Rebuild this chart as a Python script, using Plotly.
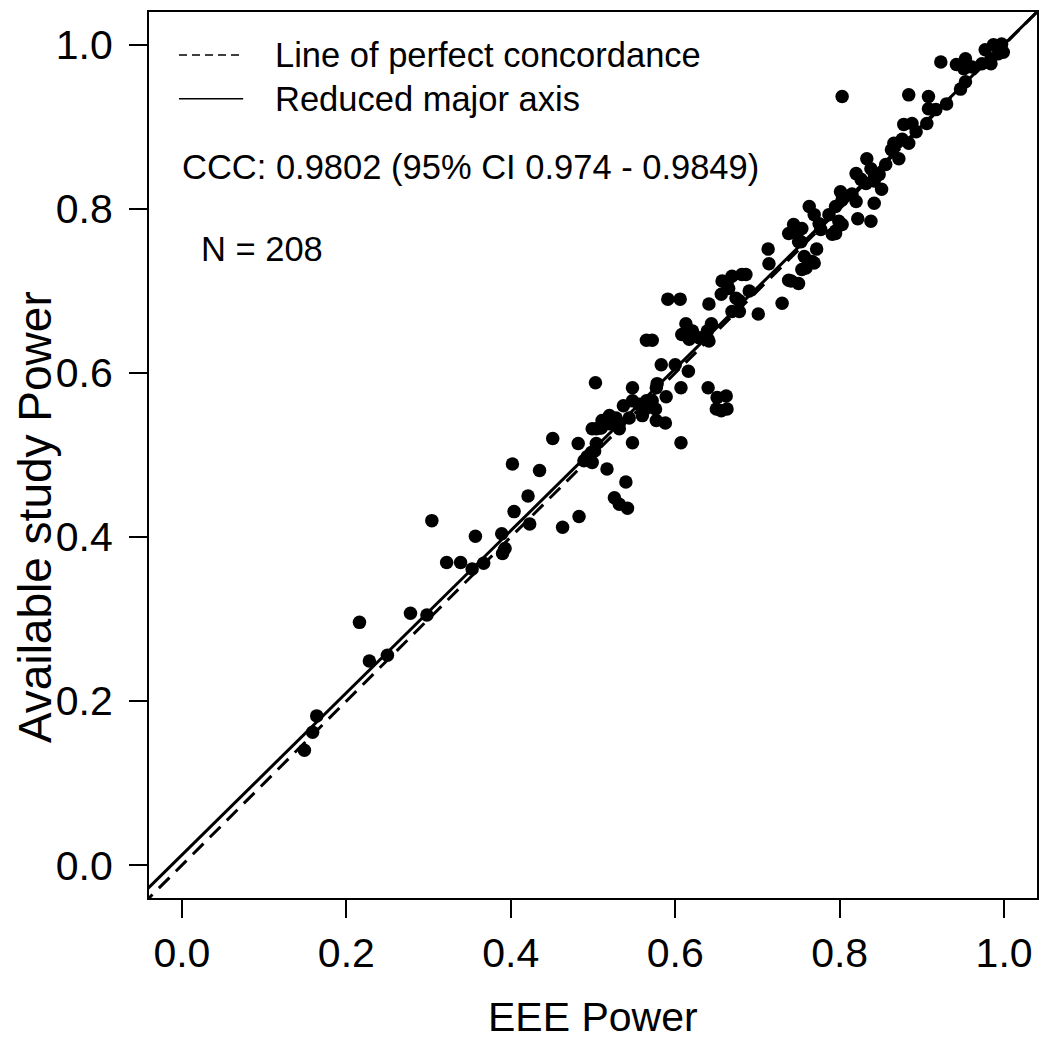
import plotly.graph_objects as go

# ---- data ----
eee_power = [
    0.149, 0.159, 0.164, 0.216, 0.228, 0.250, 0.278, 0.298, 0.304, 0.322,
    0.339, 0.357, 0.353, 0.367, 0.389, 0.393, 0.390, 0.404, 0.421, 0.423,
    0.402, 0.435, 0.451, 0.463, 0.483, 0.482, 0.493, 0.499, 0.502, 0.504,
    0.517, 0.520, 0.532, 0.540, 0.526, 0.532, 0.542, 0.537, 0.548, 0.548,
    0.565, 0.572, 0.560, 0.589, 0.588, 0.503, 0.607, 0.607, 0.616, 0.640,
    0.651, 0.662, 0.656, 0.663, 0.650, 0.565, 0.572, 0.591, 0.606, 0.583,
    0.600, 0.613, 0.608, 0.621, 0.617, 0.641, 0.644, 0.641, 0.665, 0.674,
    0.678, 0.556, 0.576, 0.510, 0.578, 0.511, 0.499, 0.544, 0.532, 0.629,
    0.639, 0.656, 0.669, 0.663, 0.657, 0.681, 0.690, 0.678, 0.669, 0.701,
    0.713, 0.714, 0.730, 0.738, 0.750, 0.757, 0.769, 0.759, 0.772, 0.738,
    0.750, 0.754, 0.775, 0.795, 0.803, 0.803, 0.884, 0.908, 0.908, 0.930,
    0.947, 0.942, 0.953, 0.961, 0.973, 0.984, 0.906, 0.878, 0.888, 0.893,
    0.866, 0.863, 0.876, 0.884, 0.872, 0.856, 0.833, 0.838, 0.842, 0.848,
    0.820, 0.826, 0.832, 0.842, 0.851, 0.842, 0.838, 0.822, 0.815, 0.820,
    0.801, 0.803, 0.795, 0.787, 0.799, 0.795, 0.791, 0.763, 0.769, 0.777,
    0.744, 0.748, 0.753, 0.766, 0.754, 0.741, 0.686, 0.923, 0.953, 0.951,
    0.977, 0.987, 0.997, 0.993, 0.999, 0.984, 0.953, 0.917, 0.489, 0.498,
    0.504, 0.508, 0.520, 0.528, 0.548, 0.565, 0.577, 0.577,
]
available_power = [
    0.140, 0.162, 0.182, 0.296, 0.249, 0.256, 0.307, 0.305, 0.420, 0.369,
    0.369, 0.401, 0.361, 0.368, 0.404, 0.386, 0.380, 0.431, 0.450, 0.416,
    0.489, 0.481, 0.520, 0.412, 0.425, 0.514, 0.498, 0.491, 0.505, 0.532,
    0.483, 0.548, 0.532, 0.467, 0.448, 0.440, 0.435, 0.560, 0.582, 0.515,
    0.557, 0.566, 0.548, 0.571, 0.539, 0.588, 0.515, 0.582, 0.602, 0.582,
    0.570, 0.572, 0.554, 0.556, 0.556, 0.640, 0.640, 0.690, 0.690, 0.610,
    0.610, 0.660, 0.647, 0.651, 0.641, 0.684, 0.660, 0.639, 0.703, 0.691,
    0.675, 0.562, 0.556, 0.533, 0.587, 0.542, 0.532, 0.545, 0.539, 0.643,
    0.651, 0.696, 0.718, 0.708, 0.712, 0.720, 0.700, 0.688, 0.675, 0.672,
    0.751, 0.733, 0.685, 0.713, 0.709, 0.742, 0.734, 0.728, 0.751, 0.770,
    0.760, 0.776, 0.782, 0.773, 0.781, 0.937, 0.939, 0.937, 0.922, 0.928,
    0.946, 0.976, 0.977, 0.973, 0.977, 0.977, 0.904, 0.903, 0.904, 0.894,
    0.880, 0.872, 0.885, 0.880, 0.861, 0.854, 0.861, 0.849, 0.843, 0.842,
    0.843, 0.836, 0.831, 0.834, 0.824, 0.807, 0.785, 0.788, 0.818, 0.809,
    0.821, 0.811, 0.803, 0.793, 0.785, 0.770, 0.769, 0.803, 0.793, 0.775,
    0.781, 0.770, 0.760, 0.736, 0.726, 0.712, 0.720, 0.979, 0.983, 0.971,
    0.994, 1.000, 1.001, 0.989, 0.991, 0.983, 0.955, 0.921, 0.493, 0.503,
    0.514, 0.533, 0.538, 0.545, 0.566, 0.566, 0.582, 0.542,
]

# reduced major axis fit
rma_intercept = 0.0125
rma_slope = 0.988

axis_range = [-0.04, 1.04]
tick_values = [0.0, 0.2, 0.4, 0.6, 0.8, 1.0]
tick_labels = ["0.0", "0.2", "0.4", "0.6", "0.8", "1.0"]

legend_labels = ["Line of perfect concordance", "Reduced major axis"]
ccc_text = "CCC: 0.9802 (95% CI 0.974 - 0.9849)"
n_text = "N = 208"
x_title = "EEE Power"
y_title = "Available study Power"

FONT = "Arial, Liberation Sans, Helvetica, sans-serif"

line_x = [axis_range[0] - 0.05, axis_range[1] + 0.05]

fig = go.Figure()
fig.add_trace(go.Scatter(
    x=line_x, y=line_x, mode="lines",
    line=dict(color="black", width=3, dash="15px,9px"),
    hoverinfo="skip", showlegend=False))
fig.add_trace(go.Scatter(
    x=line_x, y=[rma_intercept + rma_slope * v for v in line_x], mode="lines",
    line=dict(color="black", width=3),
    hoverinfo="skip", showlegend=False))
fig.add_trace(go.Scatter(
    x=eee_power, y=available_power, mode="markers",
    marker=dict(color="black", size=13.5, line=dict(width=0)),
    showlegend=False))

axis_common = dict(
    range=axis_range, tickmode="array", tickvals=tick_values, ticktext=tick_labels,
    ticks="outside", ticklen=18, tickwidth=2, tickcolor="black",
    showline=True, linewidth=2, linecolor="black", mirror=True,
    showgrid=False, zeroline=False,
    tickfont=dict(family=FONT, size=41, color="black"),
)
fig.update_xaxes(**axis_common)
fig.update_yaxes(**axis_common, ticklabelstandoff=8)

annotations = [
    dict(text=x_title, x=0.5, y=-0.134, xref="paper", yref="paper",
         xanchor="center", yanchor="middle", showarrow=False,
         font=dict(family=FONT, size=41, color="black")),
    dict(text=y_title, x=-0.1284, y=0.43, xref="paper", yref="paper",
         xanchor="center", yanchor="middle", showarrow=False, textangle=-90,
         font=dict(family=FONT, size=46, color="black")),
    dict(text=legend_labels[0], x=0.1396, y=0.9516, xref="paper", yref="paper",
         xanchor="left", yanchor="middle", showarrow=False,
         font=dict(family=FONT, size=34.5, color="black")),
    dict(text=legend_labels[1], x=0.1396, y=0.902, xref="paper", yref="paper",
         xanchor="left", yanchor="middle", showarrow=False,
         font=dict(family=FONT, size=34.5, color="black")),
    dict(text=ccc_text, x=0.0349, y=0.8255, xref="paper", yref="paper",
         xanchor="left", yanchor="middle", showarrow=False,
         font=dict(family=FONT, size=34.5, color="black")),
    dict(text=n_text, x=0.0563, y=0.732, xref="paper", yref="paper",
         xanchor="left", yanchor="middle", showarrow=False,
         font=dict(family=FONT, size=34.5, color="black")),
]

shapes = [
    dict(type="line", xref="paper", yref="paper", x0=0.0338, x1=0.106,
         y0=0.9516, y1=0.9516, line=dict(color="black", width=1.5, dash="8px,5px")),
    dict(type="line", xref="paper", yref="paper", x0=0.0338, x1=0.106,
         y0=0.902, y1=0.902, line=dict(color="black", width=1.5)),
]

# page body has an 8px margin; size the figure so the plot box lands where it is in the reference
fig.update_layout(
    width=1034, height=1031, autosize=False,
    margin=dict(l=141, r=5, t=2, b=141),
    paper_bgcolor="white", plot_bgcolor="white",
    annotations=annotations, shapes=shapes,
    font=dict(family=FONT, color="black"),
)

fig.write_html("out.html")
